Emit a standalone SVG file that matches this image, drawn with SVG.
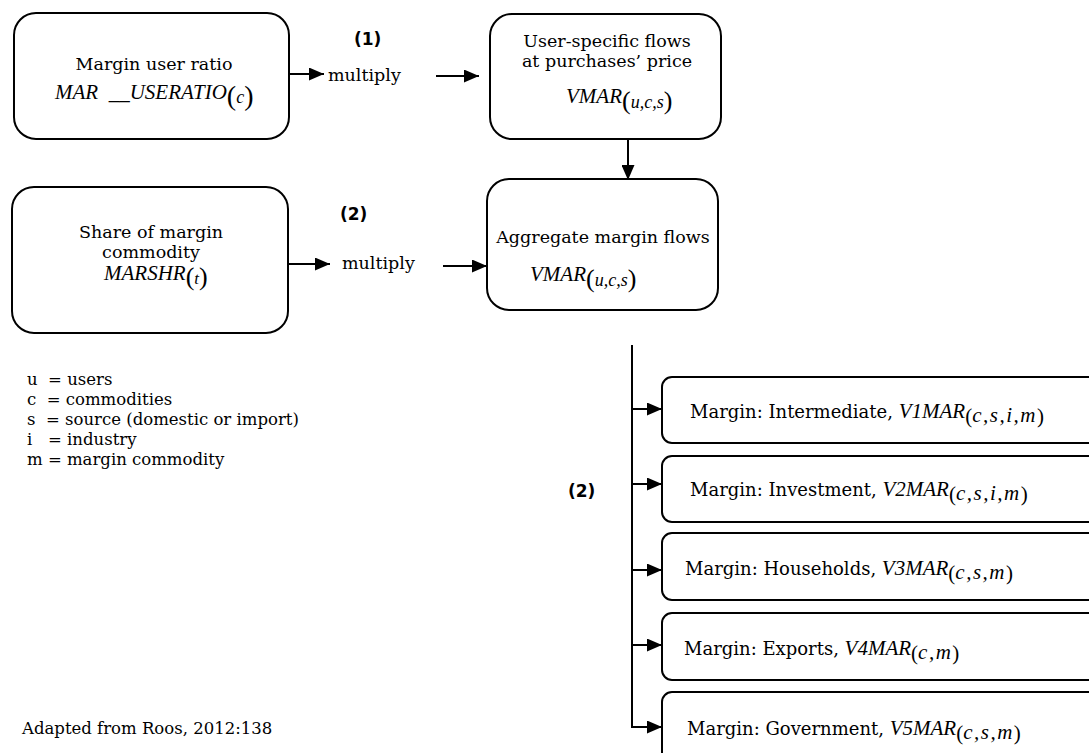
<svg xmlns="http://www.w3.org/2000/svg" width="1089" height="753" viewBox="0 0 1089 753">
<style>
.box{fill:#fff;stroke:#000;stroke-width:2}
.t{font-family:"DejaVu Serif","Liberation Serif",serif;font-size:17.5px;fill:#000}
.lg{font-size:16.5px}
.br{font-size:18px}
.m{font-family:"Liberation Serif","Times New Roman",serif;font-style:italic;font-size:21px;fill:#000}
.p{font-style:normal}
.b{font-family:"DejaVu Sans","Liberation Sans",sans-serif;font-weight:bold;font-size:17px;fill:#000}
.c{stroke:#000;stroke-width:2;fill:none}
</style>
<defs>
<marker id="ah" markerUnits="userSpaceOnUse" markerWidth="15" markerHeight="13" refX="15" refY="6.5" orient="auto">
<path d="M0,0 L15,6.5 L0,13 Z" fill="#000"/>
</marker>
</defs>
<rect width="1089" height="753" fill="#fff"/>
<g id="connectors">
<line class="c" x1="289" y1="74" x2="324" y2="74" marker-end="url(#ah)"/>
<line class="c" x1="436" y1="76" x2="479" y2="76" marker-end="url(#ah)"/>
<line class="c" x1="628" y1="139" x2="628" y2="180" marker-end="url(#ah)"/>
<line class="c" x1="288" y1="264" x2="330" y2="264" marker-end="url(#ah)"/>
<line class="c" x1="443" y1="266" x2="487" y2="266" marker-end="url(#ah)"/>
<polyline class="c" points="632,345 632,727 662,727" marker-end="url(#ah)"/>
<line class="c" x1="632" y1="409" x2="662" y2="409" marker-end="url(#ah)"/>
<line class="c" x1="632" y1="484" x2="662" y2="484" marker-end="url(#ah)"/>
<line class="c" x1="632" y1="570" x2="662" y2="570" marker-end="url(#ah)"/>
<line class="c" x1="632" y1="645" x2="662" y2="645" marker-end="url(#ah)"/>
</g>
<g id="labels">
<text class="b" x="354" y="45">(1)</text>
<text class="t" x="328" y="81">multiply</text>
<text class="b" x="340" y="220">(2)</text>
<text class="t" x="342" y="269">multiply</text>
<text class="b" x="568" y="497">(2)</text>
</g>
<g id="n_ratio">
<rect class="box" x="14" y="13" width="275" height="126" rx="22"/>
<text class="t" x="154" y="70" text-anchor="middle">Margin user ratio</text>
<text class="m" x="55" y="99" xml:space="preserve">MAR  __USERATIO<tspan class="p" font-size="28" dy="6">(</tspan><tspan font-size="18" dy="-2">c</tspan><tspan class="p" font-size="28" dy="2">)</tspan></text>
</g>
<g id="n_user">
<rect class="box" x="490" y="14" width="231" height="125" rx="22"/>
<text class="t" x="607" y="47" text-anchor="middle">User-specific flows</text>
<text class="t" x="607" y="67" text-anchor="middle">at purchases’ price</text>
<text class="m" x="566" y="103">VMAR<tspan class="p" font-size="26" dy="6">(</tspan><tspan font-size="18" dy="-1">u,c,s</tspan><tspan class="p" font-size="26" dy="1">)</tspan></text>
</g>
<g id="n_agg">
<rect class="box" x="487" y="179" width="231" height="131" rx="22"/>
<text class="t" x="603" y="243" text-anchor="middle">Aggregate margin flows</text>
<text class="m" x="530" y="281">VMAR<tspan class="p" font-size="26" dy="6">(</tspan><tspan font-size="18" dy="-1">u,c,s</tspan><tspan class="p" font-size="26" dy="1">)</tspan></text>
</g>
<g id="n_share">
<rect class="box" x="12" y="187" width="276" height="146" rx="22"/>
<text class="t" x="151" y="238" text-anchor="middle">Share of margin</text>
<text class="t" x="151" y="258" text-anchor="middle">commodity</text>
<text class="m" x="104" y="280" font-size="16">MARSHR<tspan class="p" font-size="26" dy="5">(</tspan><tspan font-size="17" dy="-1">t</tspan><tspan class="p" font-size="26" dy="1">)</tspan></text>
</g>
<g id="legend">
<text class="t lg" x="27" y="385" xml:space="preserve">u  = users</text>
<text class="t lg" x="27" y="405" xml:space="preserve">c  = commodities</text>
<text class="t lg" x="27" y="425" xml:space="preserve">s  = source (domestic or import)</text>
<text class="t lg" x="27" y="445" xml:space="preserve">i   = industry</text>
<text class="t lg" x="27" y="465" xml:space="preserve">m = margin commodity</text>
<text class="t lg" x="22" y="734">Adapted from Roos, 2012:138</text>
</g>
<g id="n_v1">
<rect class="box" x="662" y="377" width="450" height="66" rx="10"/>
<text class="t br" x="690" y="418">Margin: Intermediate, <tspan class="m" font-size="23">V1MAR</tspan><tspan class="m p" font-size="28" dy="5">(</tspan><tspan class="m" font-size="19" dy="-1" letter-spacing="1.5">c,s,i,m</tspan><tspan class="m p" font-size="28" dy="1">)</tspan></text>
</g>
<g id="n_v2">
<rect class="box" x="662" y="456" width="450" height="66" rx="10"/>
<text class="t br" x="690" y="496">Margin: Investment, <tspan class="m" font-size="23">V2MAR</tspan><tspan class="m p" font-size="28" dy="5">(</tspan><tspan class="m" font-size="19" dy="-1" letter-spacing="1.5">c,s,i,m</tspan><tspan class="m p" font-size="28" dy="1">)</tspan></text>
</g>
<g id="n_v3">
<rect class="box" x="662" y="533" width="450" height="67" rx="10"/>
<text class="t br" x="685" y="575">Margin: Households, <tspan class="m" font-size="23">V3MAR</tspan><tspan class="m p" font-size="28" dy="5">(</tspan><tspan class="m" font-size="19" dy="-1" letter-spacing="1.5">c,s,m</tspan><tspan class="m p" font-size="28" dy="1">)</tspan></text>
</g>
<g id="n_v4">
<rect class="box" x="662" y="613" width="450" height="67" rx="10"/>
<text class="t br" x="684" y="655">Margin: Exports, <tspan class="m" font-size="23">V4MAR</tspan><tspan class="m p" font-size="28" dy="5">(</tspan><tspan class="m" font-size="19" dy="-1" letter-spacing="1.5">c,m</tspan><tspan class="m p" font-size="28" dy="1">)</tspan></text>
</g>
<g id="n_v5">
<rect class="box" x="662" y="692" width="450" height="80" rx="10"/>
<text class="t br" x="687" y="735">Margin: Government, <tspan class="m" font-size="23">V5MAR</tspan><tspan class="m p" font-size="28" dy="5">(</tspan><tspan class="m" font-size="19" dy="-1" letter-spacing="1.5">c,s,m</tspan><tspan class="m p" font-size="28" dy="1">)</tspan></text>
</g>
</svg>
